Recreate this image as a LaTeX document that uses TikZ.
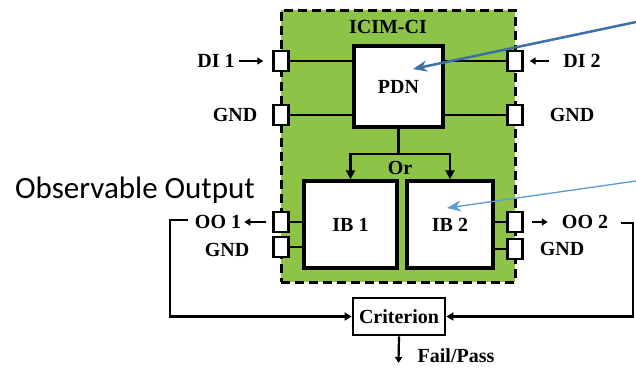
\documentclass[tikz,border=0pt]{standalone}
\usepackage{fontspec}
\setmainfont{Liberation Serif}
\newfontfamily\calloutfont{Carlito}
\usetikzlibrary{positioning, arrows.meta}
\definecolor{icimgreen}{RGB}{141, 196, 72}
\definecolor{calloutdark}{RGB}{62, 112, 168}
\definecolor{calloutlight}{RGB}{91, 155, 213}

\tikzset{
  lbl/.style={font=\fontsize{20}{22}\selectfont\bfseries, inner sep=1pt},
  blockbox/.style={draw, fill=white, line width=3.5pt, inner sep=0pt,
    font=\fontsize{20}{22}\selectfont\bfseries},
  pinbox/.style={draw, fill=white, line width=2.3pt, inner sep=0pt,
    minimum width=15, minimum height=20},
  wire/.style={line width=2.8pt},
  flow/.style={line width=2.8pt, -{Triangle[length=9pt, width=9pt]}},
  tinyarrow/.style={line width=2.2pt, -{Triangle[length=6pt, width=7pt]}}
}

\begin{document}
\begin{tikzpicture}[x=1pt, y=-1pt]
    \useasboundingbox (0,0) rectangle (636,367);

    % Green module with dashed border
    \node[draw, fill=icimgreen, line width=3pt, dash pattern=on 9pt off 5pt,
          minimum width=234, minimum height=272, inner sep=0pt] (icim) at (398,146) {};
    \node[lbl] (icimlbl) at (388,27) {ICIM-CI};

    % Inner blocks
    \node[blockbox, minimum width=89, minimum height=81] (pdn) at (398.5,86.5) {PDN};
    \node[blockbox, minimum width=93, minimum height=87] (ib1) at (350.5,224.5) {IB 1};
    \node[blockbox, minimum width=86, minimum height=87] (ib2) at (450,224.5) {IB 2};
    \node[blockbox, minimum width=92, minimum height=37, line width=2.8pt] (crit) at (399,316.5) {Criterion};

    % Pins on the module border
    \node[pinbox] (di1pin) at (281,61) {};
    \node[pinbox] (gnd1pin) at (281,115) {};
    \node[pinbox] (di2pin) at (515,61) {};
    \node[pinbox] (gnd2pin) at (515,115) {};
    \node[pinbox] (oo1pin) at (281,222) {};
    \node[pinbox] (gnd3pin) at (281,247) {};
    \node[pinbox] (oo2pin) at (515,222) {};
    \node[pinbox] (gnd4pin) at (515,249) {};

    % Wires from pins to blocks
    \draw[wire] (di1pin.east) -- (di1pin.east -| pdn.west);
    \draw[wire] (gnd1pin.east) -- (gnd1pin.east -| pdn.west);
    \draw[wire] (di2pin.west) -- (di2pin.west -| pdn.east);
    \draw[wire] (gnd2pin.west) -- (gnd2pin.west -| pdn.east);
    \draw[wire] (oo1pin.east) -- (oo1pin.east -| ib1.west);
    \draw[wire] (gnd3pin.east) -- (gnd3pin.east -| ib1.west);
    \draw[wire] (oo2pin.west) -- (oo2pin.west -| ib2.east);
    \draw[wire] (gnd4pin.west) -- (gnd4pin.west -| ib2.east);

    % PDN feeds either IB
    \coordinate (orsplit) at (398.5,154);
    \draw[wire] (pdn.south) -- (orsplit);
    \draw[flow] (orsplit) -| (ib1.north);
    \draw[flow] (orsplit) -| (ib2.north);
    \node[lbl] (orlbl) at (400,168) {Or};

    % Pin labels
    \node[lbl] (di1) at (216,61) {DI 1};
    \node[lbl] (gnd1) at (235,115) {GND};
    \node[lbl] (di2) at (582,61) {DI 2};
    \node[lbl] (gnd2) at (572,115) {GND};
    \node[lbl] (oo1) at (218,222) {OO 1};
    \node[lbl] (gnd3) at (227,250) {GND};
    \node[lbl] (oo2) at (585,222) {OO 2};
    \node[lbl] (gnd4) at (562,249) {GND};

    \draw[tinyarrow] ([xshift=3pt]di1.east) -- ([xshift=-9pt]di1pin.west);
    \draw[tinyarrow] ([xshift=-13pt]di2.west) -- ([xshift=6pt]di2pin.east);
    \draw[tinyarrow] ([xshift=-6pt]oo1pin.west) -- ([xshift=2pt]oo1.east);
    \draw[tinyarrow] ([xshift=8pt]oo2pin.east) -- ([xshift=-13pt]oo2.west);

    % Observed outputs back to the criterion
    \coordinate (fbleft) at (170,220);
    \coordinate (fbright) at (633,223);
    \draw[wire, line width=2.2pt, -{Triangle[length=7pt, width=8pt]}]
        ([xshift=-6pt]oo1.west |- fbleft) -- (fbleft) |- (crit.west);
    \draw[wire, line width=2.2pt, -{Triangle[length=7pt, width=8pt]}]
        ([xshift=12pt]oo2.east |- fbright) -- (fbright) |- (crit.east);

    % Verdict
    \coordinate (verdict) at (398.5,363);
    \draw[tinyarrow] (crit.south) -- (verdict);
    \node[lbl] (failpass) at (456,356) {Fail/Pass};

    % Callout text and pointers
    \node[font=\calloutfont\fontsize{31}{33}\selectfont, inner sep=0pt] (obsout) at (135,190) {Observable Output};
    \coordinate (calloutA) at (636,22);
    \coordinate (pdntip) at (413,69);
    \coordinate (calloutB) at (636,181);
    \coordinate (ibtip) at (447,208);
    \draw[calloutdark, line width=2.5pt, -{Stealth[length=14pt, width=11pt]}] (calloutA) -- (pdntip);
    \draw[calloutlight, line width=1.3pt, -{Stealth[length=14pt, width=11pt]}] (calloutB) -- (ibtip);
\end{tikzpicture}
\end{document}
